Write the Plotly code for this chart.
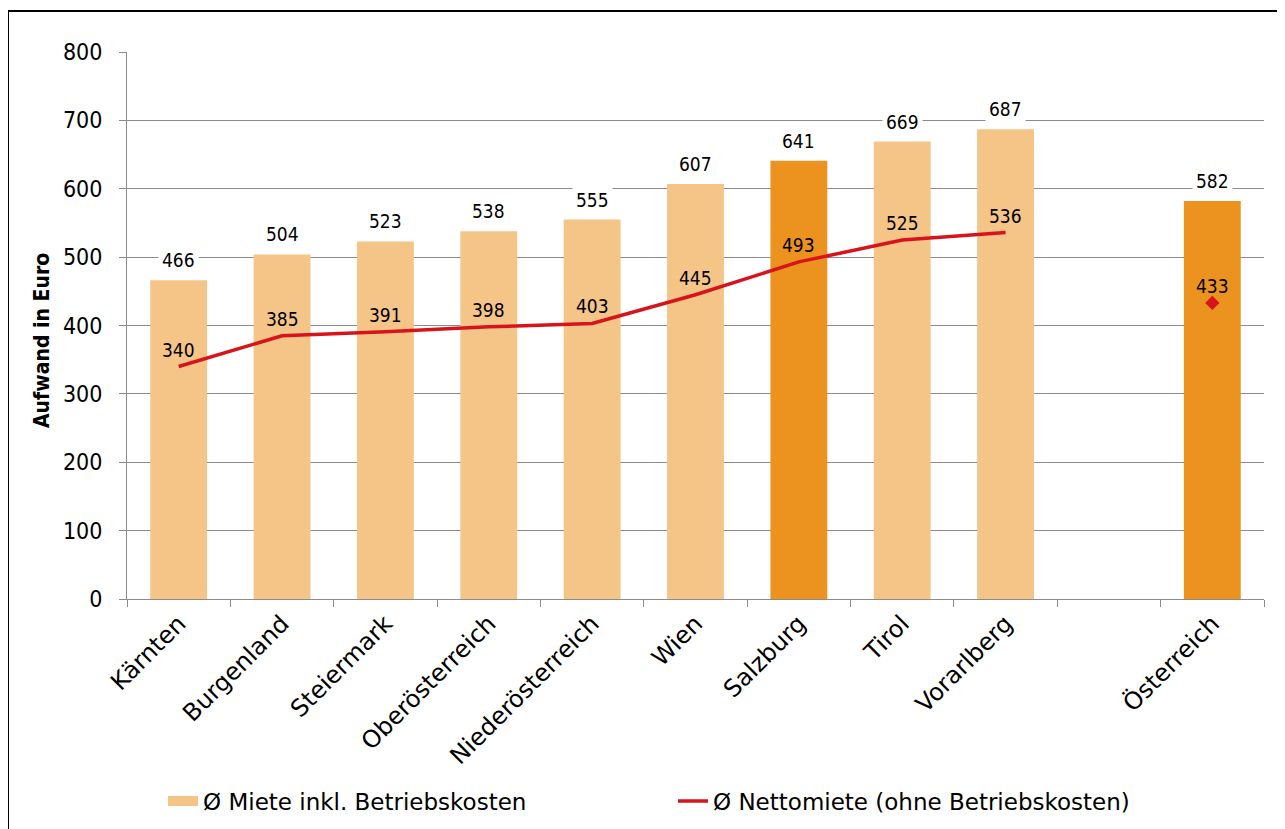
import plotly.graph_objects as go

# Daten ---------------------------------------------------------------
regionen = ["Kärnten", "Burgenland", "Steiermark", "Oberösterreich",
            "Niederösterreich", "Wien", "Salzburg", "Tirol", "Vorarlberg",
            " ", "Österreich"]
miete_inkl = [466, 504, 523, 538, 555, 607, 641, 669, 687, None, 582]
nettomiete = [340, 385, 391, 398, 403, 445, 493, 525, 536, None, None]
nettomiete_at = 433
hervorgehoben = ["Salzburg", "Österreich"]

y_ticks = [0, 100, 200, 300, 400, 500, 600, 700, 800]

# Farben / Schrift ----------------------------------------------------
hell = "#F5C487"
dunkel = "#EB931E"
rot = "#D7141C"
grau = "#8C8C8C"
schrift = "DejaVu Sans Condensed, DejaVu Sans"
schrift_breit = "DejaVu Sans"

# Seite hat 8px body-Rand -> Figur um 8px kleiner, Koordinaten um 8px verschoben
off = 8
W, H = 1285 - off, 829 - off
ml, mt = 127 - off, 52 - off
mr = W - (1264 - off)
mb = H - (599 - off)
pw, ph = W - ml - mr, H - mt - mb

farben = [dunkel if r in hervorgehoben else hell for r in regionen]

fig = go.Figure()

fig.add_trace(go.Bar(
    x=regionen, y=miete_inkl,
    marker=dict(color=farben, line=dict(width=0)),
    showlegend=False
))

# Legendeneintrag für die Balken (breites Farbfeld)
fig.add_trace(go.Scatter(
    x=[None], y=[None], mode="lines",
    line=dict(color=hell, width=10),
    name="Ø Miete inkl. Betriebskosten"
))

fig.add_trace(go.Scatter(
    x=regionen, y=nettomiete,
    mode="lines",
    line=dict(color=rot, width=3.5),
    name="Ø Nettomiete (ohne Betriebskosten)"
))

fig.add_trace(go.Scatter(
    x=[regionen[-1]], y=[nettomiete_at],
    mode="markers",
    marker=dict(symbol="diamond", size=11, color=rot),
    showlegend=False
))

# Beschriftungen ------------------------------------------------------
anno = []
for r, v in zip(regionen, miete_inkl):
    if v is None:
        continue
    anno.append(dict(x=r, y=v, text=str(v), showarrow=False,
                     yshift=20, yanchor="middle", bgcolor="white",
                     borderpad=3, font=dict(size=19, color="black", family=schrift)))
for r, v in zip(regionen + [regionen[-1]], nettomiete + [nettomiete_at]):
    if v is None:
        continue
    anno.append(dict(x=r, y=v, text=str(v), showarrow=False,
                     yshift=17, yanchor="middle",
                     font=dict(size=19, color="black", family=schrift)))

# y-Achsentitel
anno.append(dict(xref="paper", yref="paper",
                 x=(42 - off - ml) / pw, y=(599 - 341) / ph,
                 text="<b>Aufwand in Euro</b>", textangle=-90, showarrow=False,
                 xanchor="center", yanchor="middle",
                 font=dict(size=21, color="black", family=schrift)))

# Rahmen um das ganze Diagramm
rahmen = dict(type="rect", xref="paper", yref="paper", layer="above",
              x0=(8 - off - ml) / pw, x1=(W + 10 - ml) / pw,
              y0=(mt + ph - (H + 10)) / ph, y1=(mt + ph - (11 - off)) / ph,
              line=dict(color="black", width=2), fillcolor="rgba(0,0,0,0)")

fig.update_layout(
    width=W, height=H,
    margin=dict(l=ml, r=mr, t=mt, b=mb, autoexpand=False),
    paper_bgcolor="white", plot_bgcolor="white",
    font=dict(family=schrift, color="black"),
    bargap=0.45,
    showlegend=True,
    legend=dict(orientation="h", xref="container", yref="container",
                x=(163 - off) / W, y=1 - (801 - off) / H,
                xanchor="left", yanchor="middle",
                entrywidth=465, font=dict(size=23, family=schrift_breit),
                traceorder="normal"),
    annotations=anno,
    shapes=[rahmen],
    xaxis=dict(
        type="category", tickson="boundaries", automargin=False,
        ticks="outside", ticklen=7, tickcolor=grau, tickwidth=1,
        showline=True, linecolor=grau, linewidth=1,
        showgrid=False, tickangle=-45,
        tickfont=dict(size=24, family=schrift_breit),
        range=[-0.5, len(regionen) - 0.5]
    ),
    yaxis=dict(
        range=[0, 800], tickvals=y_ticks, automargin=False,
        ticks="outside", ticklen=7, tickcolor=grau,
        showline=True, linecolor=grau, linewidth=1,
        showgrid=True, gridcolor=grau, gridwidth=1,
        zeroline=False,
        tickfont=dict(size=23, family=schrift),
        ticklabelstandoff=12
    )
)

fig.write_html("out.html")
